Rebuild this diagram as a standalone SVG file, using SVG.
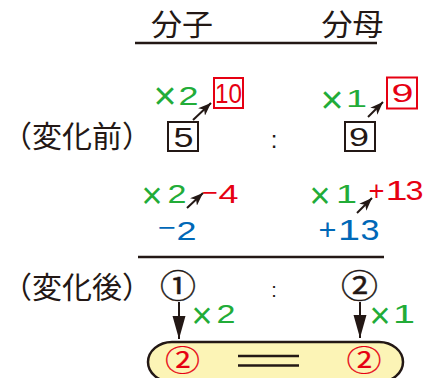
<svg xmlns="http://www.w3.org/2000/svg" width="438" height="378" viewBox="0 0 438 378">
<style>
text{text-anchor:middle}
.cjk{font-family:"Noto Sans CJK JP","Noto Sans CJK SC",sans-serif;fill:#231815}
.circ{font-family:"Noto Sans CJK JP","Noto Sans CJK SC",sans-serif;stroke-width:0.4;paint-order:stroke}
.n{font-family:"Liberation Sans",Arial,sans-serif}
.g{fill:#22ac38}.r{fill:#e60012}.b{fill:#0068b7}.k{fill:#231815}
.ck{fill:#231815;stroke:#231815}.cr{fill:#e60012;stroke:#e60012}
.rule{stroke:#231815;stroke-width:2.5}
.boxk{fill:none;stroke:#231815;stroke-width:2}
.boxr{fill:none;stroke:#e60012;stroke-width:2}
.arr{stroke:#231815;stroke-width:2;fill:none}
</style>
<defs>
<marker id="ah" markerUnits="userSpaceOnUse" markerWidth="14" markerHeight="10" refX="13" refY="5" orient="auto">
<path d="M0,0 L13,5 L0,10 L3.5,5 Z" fill="#231815"/>
</marker>
<marker id="ad" markerUnits="userSpaceOnUse" markerWidth="24" markerHeight="14" refX="23" refY="7" orient="auto">
<path d="M0,0.5 L23,7 L0,13.5 Z" fill="#231815"/>
</marker>
</defs>

<g id="header">
<text class="cjk" x="182" y="35" font-size="30" textLength="62" lengthAdjust="spacingAndGlyphs">分子</text>
<text class="cjk" x="352.5" y="35" font-size="30" textLength="62" lengthAdjust="spacingAndGlyphs">分母</text>
<line class="rule" x1="135" y1="43" x2="377" y2="43"/>
</g>

<g id="label-before">
<text class="cjk" x="77" y="147" font-size="30">（変化前）</text>
</g>

<g id="num-before">
<rect class="boxk" x="168" y="122" width="30" height="29"/>
<text class="n k" x="183.5" y="147" font-size="28" textLength="20" lengthAdjust="spacingAndGlyphs">5</text>
</g>
<g id="colon-before"><text class="n k" x="274" y="147.5" font-size="24">:</text></g>
<g id="den-before">
<rect class="boxk" x="345" y="122" width="30" height="29"/>
<text class="n k" x="359" y="146" font-size="26" textLength="20" lengthAdjust="spacingAndGlyphs">9</text>
</g>

<g id="num-times2">
<text class="n g" x="165" y="108.5" font-size="38" textLength="23" lengthAdjust="spacingAndGlyphs">×</text>
<text class="n g" x="188.5" y="105" font-size="25" textLength="20" lengthAdjust="spacingAndGlyphs">2</text>
</g>
<g id="num-10">
<rect class="boxr" x="214" y="78" width="29" height="30"/>
<text class="n r" x="228.5" y="103" font-size="28" textLength="27" lengthAdjust="spacingAndGlyphs">10</text>
</g>
<g id="den-times1">
<text class="n g" x="332" y="112.5" font-size="38" textLength="23" lengthAdjust="spacingAndGlyphs">×</text>
<text class="n g" x="356.5" y="107" font-size="23" textLength="21" lengthAdjust="spacingAndGlyphs">1</text>
</g>
<g id="den-9">
<rect class="boxr" x="387" y="77.5" width="30" height="31"/>
<text class="n r" x="402.5" y="102" font-size="25" textLength="22" lengthAdjust="spacingAndGlyphs">9</text>
</g>

<g id="num-row2">
<text class="n g" x="152" y="207.5" font-size="36" textLength="21" lengthAdjust="spacingAndGlyphs">×</text>
<text class="n g" x="177" y="203" font-size="25" textLength="19" lengthAdjust="spacingAndGlyphs">2</text>
<text class="n r" x="210" y="201" font-size="25" textLength="16" lengthAdjust="spacingAndGlyphs">−</text>
<text class="n r" x="228.5" y="203" font-size="25" textLength="20" lengthAdjust="spacingAndGlyphs">4</text>
<text class="n b" x="167" y="236" font-size="25" textLength="18" lengthAdjust="spacingAndGlyphs">−</text>
<text class="n b" x="186.5" y="240" font-size="25" textLength="20" lengthAdjust="spacingAndGlyphs">2</text>
</g>
<g id="den-row2">
<text class="n g" x="320" y="207.5" font-size="36" textLength="21" lengthAdjust="spacingAndGlyphs">×</text>
<text class="n g" x="346.5" y="203" font-size="25" textLength="21" lengthAdjust="spacingAndGlyphs">1</text>
<text class="n r" x="376.5" y="200" font-size="27" textLength="16" lengthAdjust="spacingAndGlyphs">+</text>
<text class="n r" x="396.5" y="200" font-size="27" textLength="22" lengthAdjust="spacingAndGlyphs">1</text>
<text class="n r" x="414.5" y="200" font-size="27" textLength="18" lengthAdjust="spacingAndGlyphs">3</text>
<text class="n b" x="327.5" y="240" font-size="30" textLength="18" lengthAdjust="spacingAndGlyphs">+</text>
<text class="n b" x="349" y="240" font-size="30" textLength="22" lengthAdjust="spacingAndGlyphs">1</text>
<text class="n b" x="370" y="240" font-size="30" textLength="19" lengthAdjust="spacingAndGlyphs">3</text>
</g>
<g id="rule2"><line class="rule" x1="138" y1="257" x2="384" y2="257"/></g>

<g id="label-after">
<text class="cjk" x="77" y="298" font-size="30">（変化後）</text>
</g>
<g id="num-after"><text class="circ ck" x="178" y="297.5" font-size="33" textLength="36" lengthAdjust="spacingAndGlyphs">①</text></g>
<g id="colon-after"><text class="n k" x="274" y="297" font-size="20">:</text></g>
<g id="den-after"><text class="circ ck" x="359.5" y="297.5" font-size="33" textLength="37" lengthAdjust="spacingAndGlyphs">②</text></g>

<g id="num-mult">
<text class="n g" x="202" y="327.5" font-size="36" textLength="21" lengthAdjust="spacingAndGlyphs">×</text>
<text class="n g" x="226" y="323" font-size="25" textLength="19" lengthAdjust="spacingAndGlyphs">2</text>
</g>
<g id="den-mult">
<text class="n g" x="380" y="328" font-size="36" textLength="21" lengthAdjust="spacingAndGlyphs">×</text>
<text class="n g" x="404" y="323" font-size="25" textLength="22" lengthAdjust="spacingAndGlyphs">1</text>
</g>

<g id="result">
<rect x="148" y="342" width="255" height="40" rx="24" ry="20" fill="#fcf4b6" stroke="#231815" stroke-width="2.5"/>
<text class="circ cr" x="182.5" y="370.5" font-size="30" textLength="35" lengthAdjust="spacingAndGlyphs" style="stroke-width:0.2">②</text>
<text class="circ cr" x="364" y="370.5" font-size="30" textLength="35" lengthAdjust="spacingAndGlyphs" style="stroke-width:0.2">②</text>
<line class="rule" x1="238" y1="356" x2="299" y2="356" stroke-width="3"/>
<line class="rule" x1="238" y1="365.5" x2="299" y2="365.5" stroke-width="3"/>
</g>

<g id="connectors">
<line class="arr" x1="193" y1="120" x2="211" y2="103" marker-end="url(#ah)"/>
<line class="arr" x1="368" y1="117" x2="383" y2="102" marker-end="url(#ah)"/>
<line class="arr" x1="187" y1="208" x2="203" y2="193" marker-end="url(#ah)"/>
<line class="arr" x1="357" y1="213" x2="372" y2="198" marker-end="url(#ah)"/>
<line class="arr" x1="179" y1="302" x2="179" y2="339" marker-end="url(#ad)"/>
<line class="arr" x1="360" y1="302" x2="360" y2="338" marker-end="url(#ad)"/>
</g>
</svg>
